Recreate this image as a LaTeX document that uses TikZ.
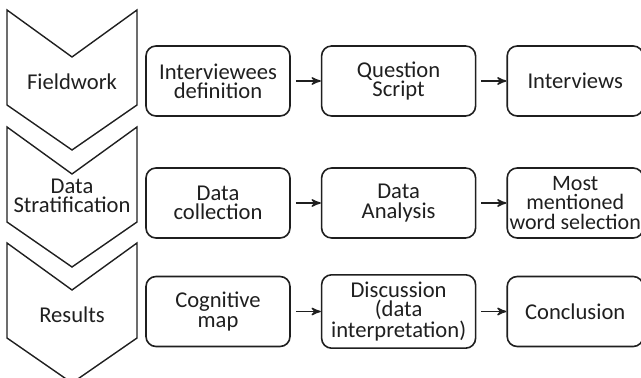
\documentclass[tikz,border=0pt]{standalone}
\usepackage{fontspec}
\setmainfont{Carlito}
\usetikzlibrary{arrows,positioning}

\begin{document}
\begin{tikzpicture}[x=0.5pt,y=-0.5pt,>=stealth',node distance=15pt,
                line join=miter,color={black!88},
                stage node/.style={font=\fontsize{11.3}{9.6}\selectfont,align=center},
                step node/.style={draw,line width=0.8pt,rounded corners=5pt,minimum height=35pt,
                  inner xsep=0pt,align=center,font=\fontsize{11.3}{9.6}\selectfont}]
                \useasboundingbox (0,0) rectangle (641,378);

                % chevrons down the left side
                \foreach \t in {10,127,243}
                  \draw[line width=0.7pt] (7,\t) -- (72,\t+47) -- (137,\t) -- (137,\t+95)
                    -- (72,\t+140) -- (7,\t+95) -- cycle;
                \node[stage node] (s1) at (72,82) {Fieldwork};
                \node[stage node] (s2) at (72,196) {Data\\Stratification};
                \node[stage node] (s3) at (72,315) {Results};

                \node[step node,minimum width=72pt] (f1) at (218,81) {Interviewees\\definition};
                \node[step node,minimum width=77pt] (f2) [right=of f1] {Question\\Script};
                \node[step node,minimum width=68pt] (f3) [right=of f2] {Interviews};

                \node[step node,minimum width=72pt] (d1) at (218,203) {Data\\collection};
                \node[step node,minimum width=77pt] (d2) [right=of d1] {Data\\Analysis};
                \node[step node,minimum width=68pt,font=\fontsize{11}{9.6}\selectfont] (d3) [right=of d2]
                  {Most\\mentioned\\word selection};

                \node[step node,minimum width=72pt] (r1) at (218,311.5) {Cognitive\\map};
                \node[step node,minimum width=77pt] (r2) [right=of r1] {Discussion\\(data\\interpretation)};
                \node[step node,minimum width=68pt] (r3) [right=of r2] {Conclusion};

                \path[->,line width=0.7pt,shorten <=2.5pt]
                (f1) edge (f2)
                (f2) edge (f3)
                (d1) edge (d2)
                (d2) edge (d3)
                (r1) edge (r2)
                (r2) edge (r3)
                ;
\end{tikzpicture}
\end{document}
